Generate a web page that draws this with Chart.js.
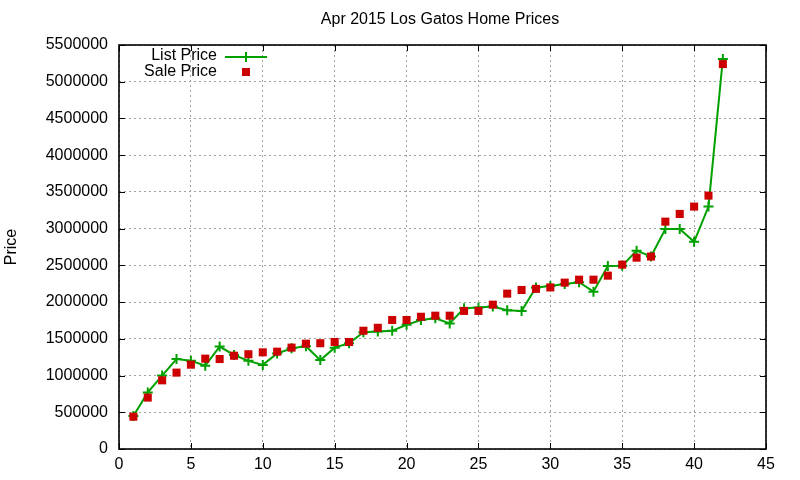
<!DOCTYPE html>
<html>
<head>
<meta charset="utf-8">
<script src="https://cdn.jsdelivr.net/npm/chart.js@4.4.0/dist/chart.umd.min.js"></script>
<style>
  html, body { margin: 0; padding: 0; background: #fff; }
  #wrap { width: 800px; height: 480px; }
</style>
</head>
<body>
<div id="wrap"><canvas id="myChart" width="800" height="480"></canvas></div>
<script>
// house index on the x axis
let houseIndex = [];
for (let i = 1; i <= 42; i++) houseIndex.push(i);

let listPrice = [
  450000, 770000, 1000000, 1225000, 1200000, 1135000, 1395000, 1280000, 1200000, 1145000,
  1300000, 1370000, 1400000, 1210000, 1380000, 1440000, 1590000, 1600000, 1610000, 1690000,
  1756000, 1780000, 1710000, 1915000, 1925000, 1940000, 1890000, 1880000, 2200000, 2220000,
  2246000, 2270000, 2142000, 2490000, 2496000, 2700000, 2620000, 2995000, 2995000, 2820000,
  3300000, 5310000
];

let salePrice = [
  440000, 700000, 935000, 1040000, 1148000, 1230000, 1225000, 1270000, 1290000, 1316000,
  1325000, 1380000, 1434000, 1440000, 1457000, 1457000, 1610000, 1650000, 1756000, 1756000,
  1800000, 1815000, 1815000, 1880000, 1880000, 1965000, 2115000, 2165000, 2180000, 2200000,
  2265000, 2305000, 2305000, 2360000, 2510000, 2605000, 2620000, 3095000, 3200000, 3300000,
  3450000, 5240000
];

let chartTitle = "Apr 2015 Los Gatos Home Prices";
let yTitle = "Price";
let seriesNames = ["List Price", "Sale Price"];

const FONT = "Liberation Sans, Arial, sans-serif";
const GREEN = "#00a000";
const RED = "#cc0000";

// gnuplot look: frame, inward ticks, title, y label and legend
const gnuplotLook = {
  id: "gnuplotLook",
  afterDraw(chart) {
    const ctx = chart.ctx;
    const a = chart.chartArea;
    const xs = chart.scales.x;
    const ys = chart.scales.y;
    ctx.save();
    ctx.strokeStyle = "#000";
    ctx.lineWidth = 1;
    ctx.beginPath();
    xs.ticks.forEach(t => {
      const px = Math.round(xs.getPixelForValue(t.value)) + 0.5;
      ctx.moveTo(px, a.bottom); ctx.lineTo(px, a.bottom - 6);
      ctx.moveTo(px, a.top); ctx.lineTo(px, a.top + 6);
    });
    ys.ticks.forEach(t => {
      const py = Math.round(ys.getPixelForValue(t.value)) + 0.5;
      ctx.moveTo(a.left, py); ctx.lineTo(a.left + 6, py);
      ctx.moveTo(a.right, py); ctx.lineTo(a.right - 6, py);
    });
    ctx.stroke();
    ctx.lineWidth = 1.6;
    ctx.strokeRect(a.left, a.top, a.right - a.left, a.bottom - a.top);

    ctx.fillStyle = "#000";
    ctx.font = "16px " + FONT;
    ctx.textAlign = "center";
    ctx.textBaseline = "middle";
    ctx.fillText(chartTitle, 440, 20);

    ctx.save();
    ctx.translate(12, (a.top + a.bottom) / 2);
    ctx.rotate(-Math.PI / 2);
    ctx.fillText(yTitle, 0, 0);
    ctx.restore();

    // legend
    ctx.textAlign = "right";
    ctx.fillText(seriesNames[0], 217, 56);
    ctx.fillText(seriesNames[1], 217, 72);
    ctx.strokeStyle = GREEN;
    ctx.lineWidth = 2;
    ctx.beginPath();
    ctx.moveTo(225, 57); ctx.lineTo(267, 57);
    ctx.moveTo(246, 52); ctx.lineTo(246, 62);
    ctx.stroke();
    ctx.fillStyle = RED;
    ctx.fillRect(242, 68, 8, 8);
    ctx.restore();
  }
};

const ctx = document.getElementById("myChart").getContext("2d");
new Chart(ctx, {
  type: "scatter",
  data: {
    datasets: [
      {
        label: seriesNames[0],
        data: houseIndex.map((x, i) => ({ x: x, y: listPrice[i] })),
        showLine: true,
        borderColor: GREEN,
        backgroundColor: GREEN,
        borderWidth: 2,
        pointStyle: "cross",
        pointRadius: 5,
        pointBorderWidth: 2,
        pointHoverRadius: 5,
        order: 2
      },
      {
        label: seriesNames[1],
        data: houseIndex.map((x, i) => ({ x: x, y: salePrice[i] })),
        showLine: false,
        borderColor: RED,
        backgroundColor: RED,
        borderWidth: 0,
        pointStyle: "rect",
        pointRadius: 5.7,
        pointHoverRadius: 5.7,
        order: 1
      }
    ]
  },
  options: {
    responsive: false,
    animation: false,
    events: [],
    layout: { padding: { left: 0, right: 34, top: 45, bottom: 0 } },
    plugins: {
      legend: { display: false },
      title: { display: false },
      tooltip: { enabled: false }
    },
    scales: {
      x: {
        type: "linear",
        min: 0,
        max: 45,
        ticks: {
          stepSize: 5,
          padding: 6,
          color: "#000",
          font: { family: FONT, size: 16 }
        },
        grid: {
          color: "#a0a0a0",
          drawTicks: false,
          lineWidth: 1
        },
        border: { display: false, dash: [2, 3] },
        afterFit(scale) { scale.height = 31; }
      },
      y: {
        type: "linear",
        min: 0,
        max: 5500000,
        ticks: {
          stepSize: 500000,
          padding: 11,
          color: "#000",
          font: { family: FONT, size: 16 },
          callback: v => String(v)
        },
        grid: {
          color: "#a0a0a0",
          drawTicks: false,
          lineWidth: 1
        },
        border: { display: false, dash: [2, 3] },
        afterFit(scale) { scale.width = 119; }
      }
    }
  },
  plugins: [gnuplotLook]
});
</script>
</body>
</html>
